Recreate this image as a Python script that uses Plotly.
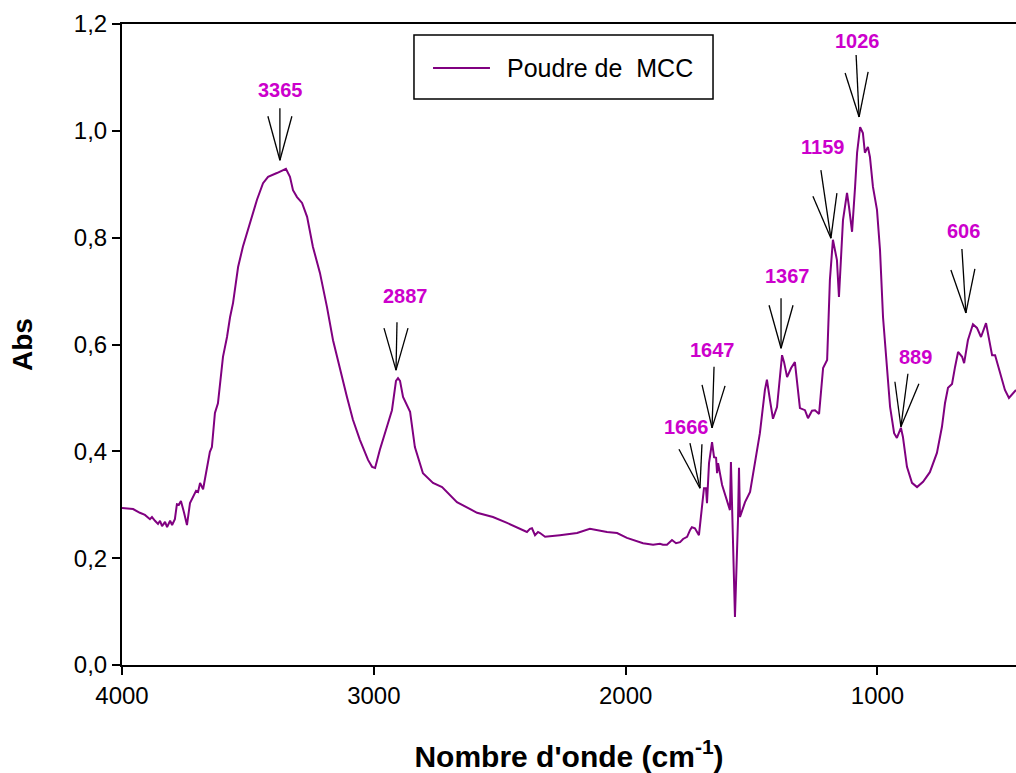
import plotly.graph_objects as go

# ---- Data ----
wavenumber = [
    4000, 3956, 3929, 3909, 3889, 3881, 3869, 3857, 3849, 3841, 3829, 3821, 3809, 3801, 3790,
    3782, 3774, 3766, 3754, 3742, 3730, 3718, 3706, 3698, 3690, 3678, 3670, 3662, 3651, 3643,
    3631, 3619, 3611, 3599, 3583, 3571, 3559, 3539, 3520, 3492, 3464, 3440, 3420, 3385, 3349,
    3333, 3321, 3305, 3285, 3265, 3242, 3214, 3186, 3162, 3134, 3107, 3083, 3055, 3023, 3007,
    2995, 2976, 2948, 2928, 2912, 2904, 2896, 2884, 2856, 2837, 2805, 2765, 2729, 2670, 2590,
    2527, 2471, 2392, 2380, 2372, 2360, 2348, 2340, 2320, 2261, 2193, 2142, 2074, 2034, 1995,
    1931, 1891, 1864, 1852, 1836, 1816, 1800, 1784, 1772, 1756, 1744, 1737, 1725, 1709, 1697,
    1689, 1681, 1677, 1669, 1657, 1649, 1641, 1637, 1633, 1617, 1598, 1586, 1582, 1578, 1566,
    1554, 1550, 1546, 1526, 1506, 1486, 1467, 1447, 1439, 1427, 1415, 1399, 1379, 1371, 1359,
    1343, 1328, 1308, 1288, 1276, 1260, 1248, 1232, 1216, 1200, 1189, 1177, 1161, 1153, 1137,
    1121, 1113, 1101, 1089, 1081, 1069, 1058, 1050, 1038, 1030, 1018, 1002, 990, 978, 962,
    950, 934, 923, 907, 899, 883, 863, 843, 819, 792, 764, 744, 732, 720, 704,
    692, 680, 664, 656, 641, 621, 605, 589, 569, 557, 545, 533, 514, 494, 478,
    462, 450,
]
absorbance = [
    0.294, 0.292, 0.285, 0.281, 0.273, 0.277, 0.270, 0.264, 0.270, 0.260, 0.268, 0.258, 0.270, 0.262, 0.273,
    0.301, 0.300, 0.307, 0.286, 0.262, 0.303, 0.315, 0.326, 0.324, 0.341, 0.329, 0.350, 0.378, 0.399, 0.408,
    0.472, 0.490, 0.528, 0.577, 0.614, 0.651, 0.678, 0.745, 0.783, 0.827, 0.871, 0.902, 0.914, 0.921, 0.929,
    0.914, 0.889, 0.876, 0.865, 0.839, 0.783, 0.734, 0.670, 0.608, 0.552, 0.502, 0.459, 0.421, 0.384, 0.371,
    0.369, 0.403, 0.446, 0.477, 0.532, 0.537, 0.532, 0.502, 0.474, 0.408, 0.359, 0.341, 0.333, 0.305, 0.285,
    0.277, 0.266, 0.249, 0.255, 0.256, 0.243, 0.249, 0.247, 0.240, 0.243, 0.247, 0.255, 0.249, 0.247, 0.238,
    0.228, 0.225, 0.227, 0.225, 0.225, 0.234, 0.228, 0.230, 0.236, 0.240, 0.253, 0.258, 0.256, 0.243, 0.296,
    0.331, 0.331, 0.303, 0.378, 0.417, 0.389, 0.388, 0.359, 0.378, 0.337, 0.309, 0.290, 0.380, 0.296, 0.090,
    0.271, 0.369, 0.277, 0.305, 0.324, 0.384, 0.434, 0.515, 0.534, 0.496, 0.461, 0.483, 0.580, 0.567, 0.539,
    0.556, 0.567, 0.481, 0.477, 0.462, 0.476, 0.477, 0.470, 0.556, 0.571, 0.721, 0.796, 0.758, 0.689, 0.833,
    0.884, 0.857, 0.811, 0.895, 0.959, 1.007, 0.996, 0.959, 0.970, 0.951, 0.895, 0.852, 0.777, 0.651, 0.558,
    0.483, 0.434, 0.425, 0.444, 0.427, 0.371, 0.341, 0.333, 0.343, 0.361, 0.397, 0.446, 0.490, 0.519, 0.526,
    0.558, 0.586, 0.577, 0.565, 0.608, 0.638, 0.631, 0.614, 0.640, 0.608, 0.580, 0.580, 0.547, 0.515, 0.500,
    0.509, 0.515,
]

series_name = "Poudre de\u00a0\u00a0MCC"

peak_labels = ["3365", "2887", "1666", "1647", "1367", "1159", "1026", "889", "606"]
peak_x = [3373, 2912, 1705, 1657, 1383, 1185, 1073, 907, 649]
peak_y = [0.945, 0.552, 0.331, 0.444, 0.593, 0.799, 1.026, 0.446, 0.659]

y_ticks = [0.0, 0.2, 0.4, 0.6, 0.8, 1.0, 1.2]
x_ticks = [4000, 3000, 2000, 1000]

# ---- Styling: pixel offsets of arrow strokes (left, centre, right) and label ----
arrow_left = [(-12, 44), (-12, 42), (-21, 39), (-10, 43), (-12, 43), (-18, 42), (-14, 44), (-6, 45), (-15, 43)]
arrow_mid = [(0, 52), (1, 48), (-10, 45), (2, 61), (0, 50), (-10, 68), (-3, 62), (7, 53), (-4, 64)]
arrow_right = [(12, 44), (12, 42), (2, 44), (13, 42), (12, 43), (6, 45), (9, 45), (18, 43), (9, 44)]
label_off = [(1, 70), (10, 74), (-13, 61), (0, 78), (6, 72), (-8, 91), (-2, 76), (15, 70), (-2, 82)]

LINE = "#800080"
LABEL = "#CC00CC"
FONT = "Liberation Sans, Arial, sans-serif"

fig = go.Figure()
fig.add_trace(go.Scatter(
    x=wavenumber, y=absorbance, mode="lines",
    line=dict(color=LINE, width=2),
    name=series_name, showlegend=False,
))

shapes = []
annotations = []
for i, lab in enumerate(peak_labels):
    for (dx, dy) in (arrow_left[i], arrow_mid[i], arrow_right[i]):
        shapes.append(dict(
            type="line", xref="x", yref="y",
            xsizemode="pixel", ysizemode="pixel",
            xanchor=peak_x[i], yanchor=peak_y[i],
            x0=0, y0=0, x1=dx, y1=dy,
            line=dict(color="black", width=1.3),
        ))
    annotations.append(dict(
        x=peak_x[i], y=peak_y[i], xref="x", yref="y",
        text="<b>%s</b>" % lab, showarrow=False,
        xshift=label_off[i][0], yshift=label_off[i][1],
        xanchor="center", yanchor="middle",
        font=dict(family=FONT, size=20, color=LABEL),
    ))

# legend box (drawn manually to match the reference's size)
shapes.append(dict(type="rect", xref="paper", yref="paper",
                   x0=0.3266, x1=0.6611, y0=0.8830, y1=0.9828,
                   line=dict(color="black", width=1.5), fillcolor="white", layer="above"))
shapes.append(dict(type="line", xref="paper", yref="paper",
                   x0=0.3479, x1=0.4116, y0=0.9314, y1=0.9314,
                   line=dict(color=LINE, width=2), layer="above"))
annotations.append(dict(x=0.4284, y=0.9314, xref="paper", yref="paper",
                        text=series_name, showarrow=False,
                        xanchor="left", yanchor="middle",
                        font=dict(family=FONT, size=25, color="black")))

fig.update_layout(
    width=1016, height=773,
    margin=dict(l=122, r=0, t=24, b=108),
    paper_bgcolor="white", plot_bgcolor="white",
    separators=",.",
    font=dict(family=FONT, color="black"),
    showlegend=False,
    shapes=shapes,
    annotations=annotations,
)

fig.update_xaxes(
    range=[4000, 450], tickvals=x_ticks, tickformat="d",
    showline=True, linecolor="black", linewidth=2, mirror=True,
    ticks="outside", ticklen=8, tickwidth=2, tickcolor="black",
    showgrid=False, zeroline=False,
    tickfont=dict(family=FONT, size=24, color="black"),
    title=dict(text="<b>Nombre d'onde (cm<sup>-1</sup>)</b>",
               font=dict(family=FONT, size=30, color="black"), standoff=39),
)
fig.update_yaxes(
    range=[0, 1.2], tickvals=y_ticks, tickformat=".1f",
    showline=True, linecolor="black", linewidth=2,
    ticks="outside", ticklen=8, tickwidth=2, tickcolor="black",
    showgrid=False, zeroline=False,
    tickfont=dict(family=FONT, size=24, color="black"),
    title=dict(text="<b>Abs</b>", font=dict(family=FONT, size=28, color="black"), standoff=33),
)

fig.write_html("out.html", config={"displayModeBar": False},
               post_script="document.body.style.margin='0';document.body.style.overflow='hidden';")
